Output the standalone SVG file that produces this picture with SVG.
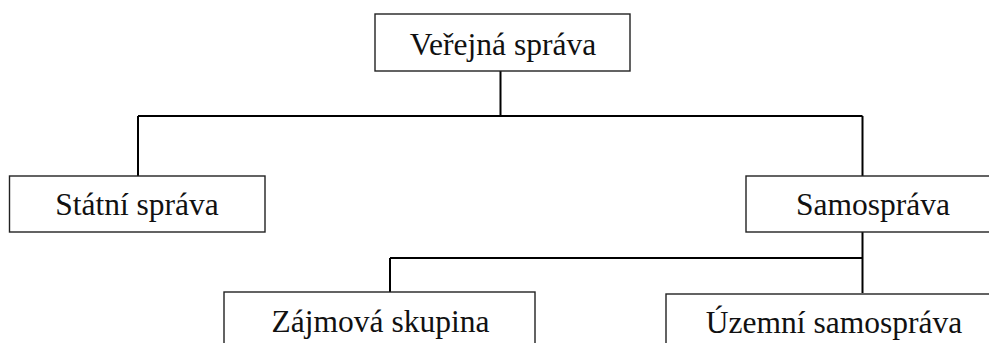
<svg xmlns="http://www.w3.org/2000/svg" width="989" height="343" viewBox="0 0 989 343">
<style>
.box{fill:#fff;stroke:#222;stroke-width:1.4}
.lbl{font-family:"Liberation Serif","Times New Roman",serif;font-size:31.5px;fill:#111;text-anchor:middle}
.conn{fill:none;stroke:#000;stroke-width:2}
</style>
<rect width="989" height="343" fill="#fff"/>
<g id="connectors">
<path class="conn" d="M500.5 71V116M138 116H862.5M138 116V176M862.5 116V176"/>
<path class="conn" d="M862.5 232V293M390 258H862.5M390 258V292"/>
</g>
<g id="verejna-sprava">
<rect class="box" x="375" y="14" width="255" height="57"/>
<text class="lbl" x="503" y="55">Veřejná správa</text>
</g>
<g id="statni-sprava">
<rect class="box" x="9.5" y="176" width="255.5" height="56"/>
<text class="lbl" x="137" y="215">Státní správa</text>
</g>
<g id="samosprava">
<rect class="box" x="746" y="176" width="260" height="56"/>
<text class="lbl" x="873" y="215">Samospráva</text>
</g>
<g id="zajmova-skupina">
<rect class="box" x="224" y="292" width="311" height="70"/>
<text class="lbl" x="380.5" y="332">Zájmová skupina</text>
</g>
<g id="uzemni-samosprava">
<rect class="box" x="666" y="294" width="340" height="70"/>
<text class="lbl" x="834" y="333">Územní samospráva</text>
</g>
</svg>
